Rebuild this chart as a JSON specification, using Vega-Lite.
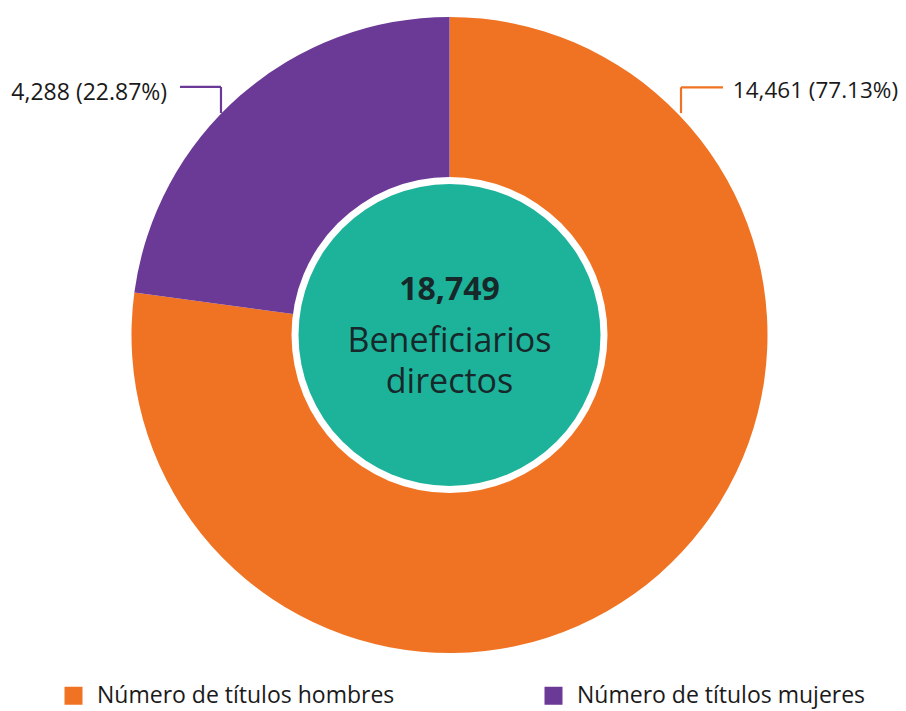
{
  "$schema": "https://vega.github.io/schema/vega-lite/v6.json",
  "width": 899,
  "height": 670,
  "autosize": "none",
  "padding": {"left": 0, "top": 0, "right": 7, "bottom": 41},
  "background": "white",
  "config": {"view": {"stroke": null}, "font": "Open Sans"},
  "datasets": {
    "slices": [
      {"cat": "Número de títulos hombres", "value": 14461, "order": 1},
      {"cat": "Número de títulos mujeres", "value": 4288, "order": 2}
    ],
    "disc": [{"v": 1}],
    "leaders": [
      {"cat": "Número de títulos mujeres", "x": -0.8475, "y": 0.780, "x2": -0.7186, "y2": 0.780},
      {"cat": "Número de títulos mujeres", "x": -0.7186, "y": 0.780, "x2": -0.7186, "y2": 0.698},
      {"cat": "Número de títulos hombres", "x": 0.728, "y": 0.779, "x2": 0.860, "y2": 0.779},
      {"cat": "Número de títulos hombres", "x": 0.728, "y": 0.779, "x2": 0.728, "y2": 0.698}
    ],
    "sliceLabels": [
      {"label": "4,288 (22.87%)", "x": -0.888, "y": 0.738, "side": "right"},
      {"label": "14,461 (77.13%)", "x": 0.891, "y": 0.746, "side": "left"}
    ],
    "total": [{"label": "18,749", "x": 0, "y": 0.110}],
    "caption": [
      {"label": "Beneficiarios", "x": 0, "y": -0.0525},
      {"label": "directos", "x": 0, "y": -0.183}
    ]
  },
  "resolve": {"scale": {"theta": "independent"}},
  "layer": [
    {
      "data": {"name": "slices"},
      "mark": {"type": "arc", "outerRadius": 318},
      "encoding": {
        "theta": {"field": "value", "type": "quantitative", "stack": true},
        "order": {"field": "order", "type": "quantitative"},
        "color": {
          "field": "cat",
          "type": "nominal",
          "scale": {
            "domain": ["Número de títulos hombres", "Número de títulos mujeres"],
            "range": ["#F07323", "#6B3996"]
          },
          "legend": {
            "title": null,
            "orient": "none",
            "direction": "horizontal",
            "columns": 2,
            "legendX": 62,
            "legendY": 684,
            "padding": 0,
            "symbolType": "square",
            "symbolSize": 324,
            "symbolStrokeWidth": 0,
            "symbolOpacity": 1,
            "labelFont": "Open Sans",
            "labelFontSize": 23,
            "labelColor": "#1a1a1a",
            "labelOffset": 12,
            "labelLimit": 400,
            "columnPadding": 147
          }
        }
      }
    },
    {
      "data": {"name": "disc"},
      "mark": {"type": "arc", "outerRadius": 158, "color": "white"},
      "encoding": {"theta": {"field": "v", "type": "quantitative", "stack": true}}
    },
    {
      "data": {"name": "disc"},
      "mark": {"type": "arc", "outerRadius": 151, "color": "#1DB39A"},
      "encoding": {"theta": {"field": "v", "type": "quantitative", "stack": true}}
    },
    {
      "data": {"name": "leaders"},
      "mark": {"type": "rule", "strokeWidth": 2.2},
      "encoding": {
        "x": {"field": "x", "type": "quantitative", "scale": {"domain": [-1.4135, 1.4135], "nice": false, "zero": false}, "axis": null},
        "y": {"field": "y", "type": "quantitative", "scale": {"domain": [-1.0535, 1.0535], "nice": false, "zero": false}, "axis": null},
        "x2": {"field": "x2"},
        "y2": {"field": "y2"},
        "color": {"field": "cat", "type": "nominal", "legend": null}
      }
    },
    {
      "data": {"name": "sliceLabels"},
      "transform": [{"filter": "datum.side === 'right'"}],
      "mark": {"type": "text", "align": "right", "baseline": "alphabetic", "fontSize": 23, "font": "Open Sans", "color": "#1a1a1a"},
      "encoding": {
        "x": {"field": "x", "type": "quantitative"},
        "y": {"field": "y", "type": "quantitative"},
        "text": {"field": "label"}
      }
    },
    {
      "data": {"name": "sliceLabels"},
      "transform": [{"filter": "datum.side === 'left'"}],
      "mark": {"type": "text", "align": "left", "baseline": "alphabetic", "fontSize": 22.5, "font": "Open Sans", "color": "#1a1a1a"},
      "encoding": {
        "x": {"field": "x", "type": "quantitative"},
        "y": {"field": "y", "type": "quantitative"},
        "text": {"field": "label"}
      }
    },
    {
      "data": {"name": "total"},
      "mark": {"type": "text", "align": "center", "baseline": "alphabetic", "fontSize": 32, "fontWeight": "bold", "font": "Open Sans", "color": "#17282a"},
      "encoding": {
        "x": {"field": "x", "type": "quantitative"},
        "y": {"field": "y", "type": "quantitative"},
        "text": {"field": "label"}
      }
    },
    {
      "data": {"name": "caption"},
      "mark": {"type": "text", "align": "center", "baseline": "alphabetic", "fontSize": 34, "font": "Open Sans", "color": "#17282a"},
      "encoding": {
        "x": {"field": "x", "type": "quantitative"},
        "y": {"field": "y", "type": "quantitative"},
        "text": {"field": "label"}
      }
    }
  ]
}
